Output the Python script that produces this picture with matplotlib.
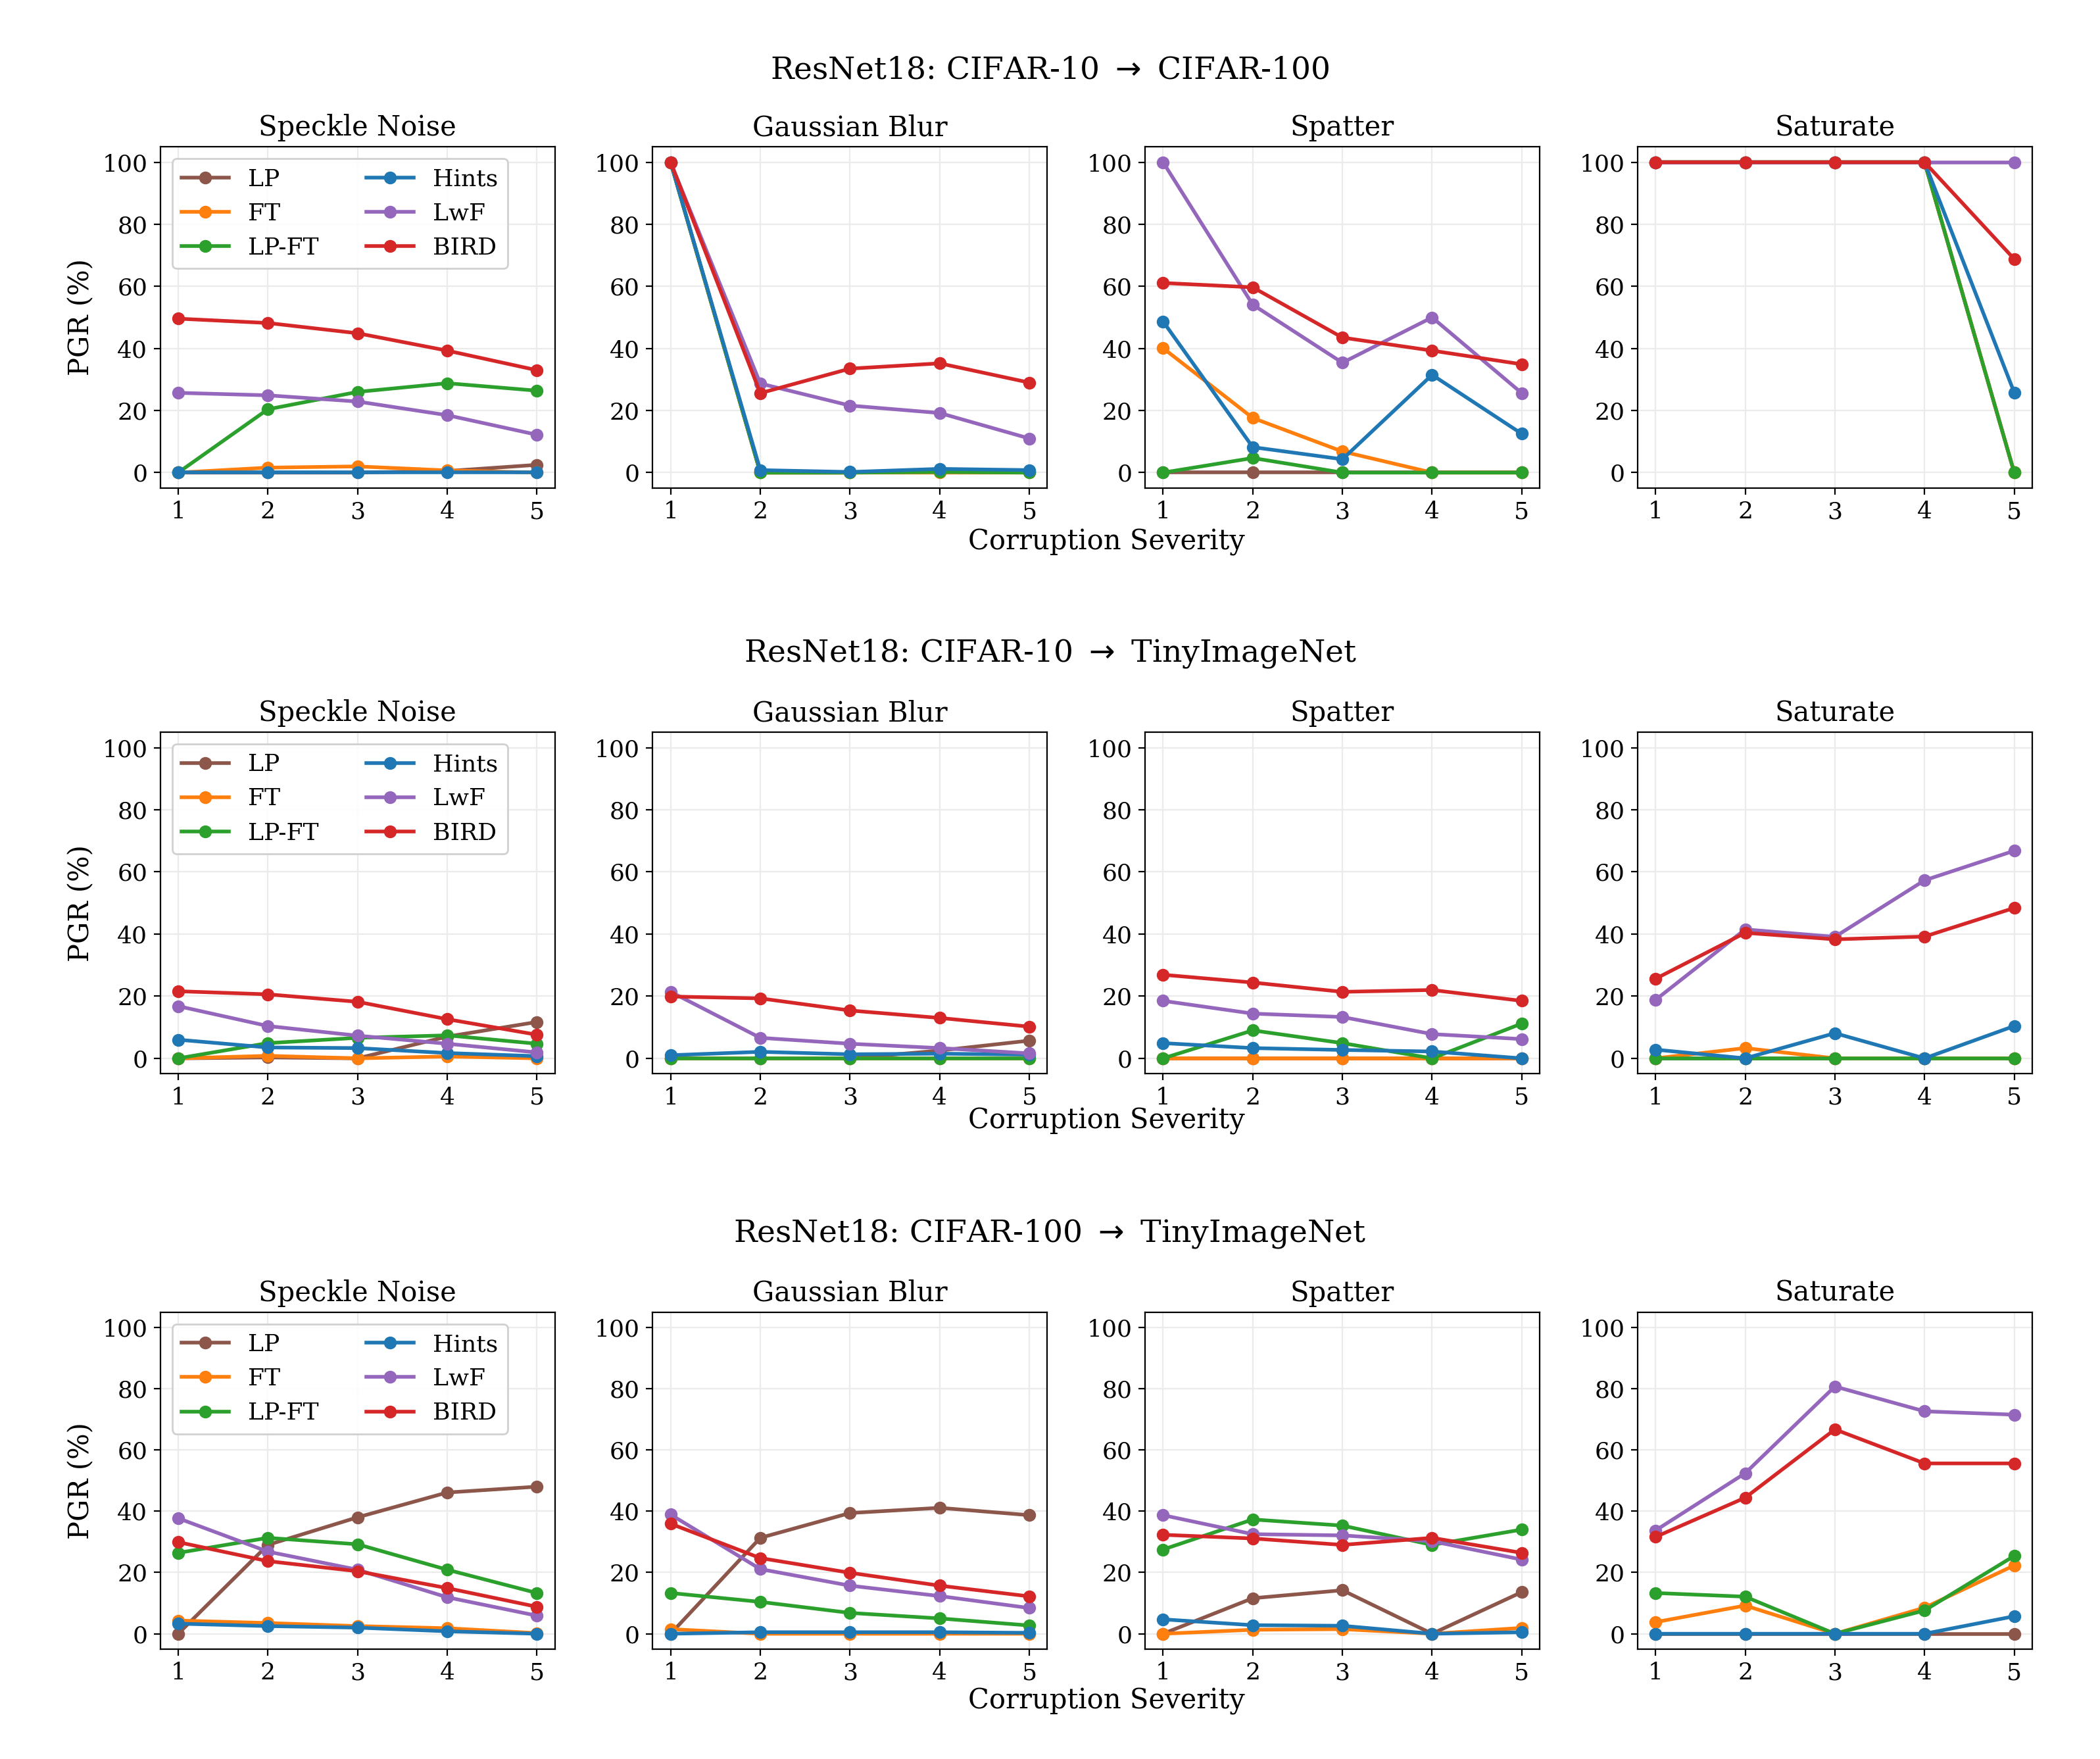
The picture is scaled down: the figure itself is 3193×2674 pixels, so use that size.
import matplotlib
matplotlib.use("Agg")
import matplotlib.pyplot as plt

plt.rcParams['font.family'] = ['DejaVu Serif']

severity = [1, 2, 3, 4, 5]
methods = ['LP', 'FT', 'LP-FT', 'Hints', 'LwF', 'BIRD']
colors = ['tab:brown', 'tab:orange', 'tab:green', 'tab:blue', 'tab:purple', 'tab:red']
corruptions = ['Speckle Noise', 'Gaussian Blur', 'Spatter', 'Saturate']
row_titles = ['ResNet18: CIFAR-10 $\\rightarrow$ CIFAR-100',
              'ResNet18: CIFAR-10 $\\rightarrow$ TinyImageNet',
              'ResNet18: CIFAR-100 $\\rightarrow$ TinyImageNet']

# CIFAR-10 -> CIFAR-100
c10_c100_speckle = {
    'LP':    [0, 0, 0, 0.5, 2.5],
    'FT':    [0, 1.6, 2.0, 0.7, 0],
    'LP-FT': [0, 20.4, 26.0, 28.8, 26.4],
    'Hints': [0, 0, 0, 0, 0],
    'LwF':   [25.7, 24.9, 22.9, 18.5, 12.2],
    'BIRD':  [49.6, 48.2, 44.9, 39.3, 33.0],
}
c10_c100_blur = {
    'LP':    [100, 0, 0, 0.5, 0.2],
    'FT':    [100, 0, 0, 0, 0],
    'LP-FT': [100, 0, 0, 0.2, 0],
    'Hints': [100, 0.8, 0.2, 1.2, 0.8],
    'LwF':   [100, 28.7, 21.6, 19.2, 11.0],
    'BIRD':  [100, 25.6, 33.5, 35.2, 29.0],
}
c10_c100_spatter = {
    'LP':    [0, 0, 0, 0, 0],
    'FT':    [40.1, 17.6, 6.8, 0, 0],
    'LP-FT': [0, 4.7, 0, 0, 0],
    'Hints': [48.7, 8.2, 4.3, 31.5, 12.5],
    'LwF':   [100, 54.1, 35.4, 50.0, 25.6],
    'BIRD':  [61.1, 59.7, 43.5, 39.3, 34.9],
}
c10_c100_saturate = {
    'LP':    [100, 100, 100, 100, 0],
    'FT':    [100, 100, 100, 100, 0],
    'LP-FT': [100, 100, 100, 100, 0],
    'Hints': [100, 100, 100, 100, 25.8],
    'LwF':   [100, 100, 100, 100, 100],
    'BIRD':  [100, 100, 100, 100, 68.8],
}

# CIFAR-10 -> TinyImageNet
c10_tin_speckle = {
    'LP':    [0, 0.3, 0, 7.0, 11.7],
    'FT':    [0, 0.8, 0, 0.6, 0],
    'LP-FT': [0, 4.9, 6.6, 7.4, 4.7],
    'Hints': [6.0, 3.5, 3.3, 1.7, 0.7],
    'LwF':   [16.8, 10.4, 7.3, 4.7, 1.9],
    'BIRD':  [21.6, 20.6, 18.2, 12.6, 7.6],
}
c10_tin_blur = {
    'LP':    [0, 0, 0, 2.5, 5.7],
    'FT':    [0, 0, 0, 0, 0],
    'LP-FT': [0, 0, 0, 0, 0],
    'Hints': [1.0, 2.1, 1.3, 1.5, 1.2],
    'LwF':   [21.4, 6.6, 4.7, 3.3, 1.6],
    'BIRD':  [19.9, 19.3, 15.4, 13.0, 10.2],
}
c10_tin_spatter = {
    'LP':    [0, 0, 0, 0, 0],
    'FT':    [0, 0, 0, 0, 0],
    'LP-FT': [0, 9.0, 4.9, 0, 11.2],
    'Hints': [4.9, 3.3, 2.7, 2.2, 0],
    'LwF':   [18.5, 14.4, 13.3, 7.8, 6.2],
    'BIRD':  [26.9, 24.4, 21.4, 22.0, 18.5],
}
c10_tin_saturate = {
    'LP':    [0, 0, 0, 0, 0],
    'FT':    [0, 3.3, 0, 0, 0],
    'LP-FT': [0, 0, 0, 0, 0],
    'Hints': [2.8, 0, 8.1, 0, 10.4],
    'LwF':   [18.8, 41.5, 39.1, 57.3, 66.8],
    'BIRD':  [25.6, 40.4, 38.3, 39.2, 48.4],
}

# CIFAR-100 -> TinyImageNet
c100_tin_speckle = {
    'LP':    [0, 29.0, 38.0, 46.1, 48.0],
    'FT':    [4.3, 3.5, 2.5, 1.8, 0.2],
    'LP-FT': [26.4, 31.3, 29.2, 20.9, 13.3],
    'Hints': [3.3, 2.5, 2.0, 0.8, 0],
    'LwF':   [37.7, 26.8, 20.9, 11.9, 5.9],
    'BIRD':  [29.9, 23.7, 20.4, 14.9, 8.8],
}
c100_tin_blur = {
    'LP':    [0, 31.3, 39.4, 41.1, 38.7],
    'FT':    [1.5, 0, 0, 0, 0],
    'LP-FT': [13.3, 10.4, 6.8, 5.0, 2.7],
    'Hints': [0, 0.5, 0.5, 0.5, 0.3],
    'LwF':   [38.9, 21.1, 15.7, 12.3, 8.4],
    'BIRD':  [35.9, 24.7, 19.9, 15.7, 12.2],
}
c100_tin_spatter = {
    'LP':    [0, 11.6, 14.2, 0, 13.6],
    'FT':    [0, 1.3, 1.5, 0, 1.9],
    'LP-FT': [27.5, 37.3, 35.3, 29.0, 34.0],
    'Hints': [4.7, 2.8, 2.6, 0, 0.5],
    'LwF':   [38.7, 32.5, 32.1, 30.2, 24.2],
    'BIRD':  [32.3, 31.1, 29.0, 31.3, 26.4],
}
c100_tin_saturate = {
    'LP':    [0, 0, 0, 0, 0],
    'FT':    [3.8, 9.2, 0, 8.5, 22.3],
    'LP-FT': [13.3, 12.1, 0, 7.6, 25.4],
    'Hints': [0, 0, 0, 0, 5.7],
    'LwF':   [33.7, 52.4, 80.7, 72.6, 71.5],
    'BIRD':  [31.6, 44.4, 66.7, 55.6, 55.6],
}

rows = [
    [c10_c100_speckle, c10_c100_blur, c10_c100_spatter, c10_c100_saturate],
    [c10_tin_speckle, c10_tin_blur, c10_tin_spatter, c10_tin_saturate],
    [c100_tin_speckle, c100_tin_blur, c100_tin_spatter, c100_tin_saturate],
]

fig = plt.figure(figsize=(15.965, 13.37), dpi=200)

# figure-fraction layout of each row: (axes top, axes bottom, title y, xlabel y)
row_pos = [(0.9166, 0.7225, 0.960, 0.692),
           (0.5838, 0.3895, 0.6286, 0.3626),
           (0.2541, 0.0625, 0.2988, 0.0329)]

for r, panels in enumerate(rows):
    top, bottom, ty, xy = row_pos[r]
    gs = fig.add_gridspec(1, 4, left=0.0763, right=0.9677, top=top, bottom=bottom, wspace=0.248)
    for c, data in enumerate(panels):
        ax = fig.add_subplot(gs[0, c])
        for m, col in zip(methods, colors):
            ax.plot(severity, data[m], marker='o', color=col, lw=2, ms=6, label=m)
        ax.set_ylim(-5, 105)
        ax.set_yticks([0, 20, 40, 60, 80, 100])
        ax.set_xticks(severity)
        ax.grid(True, color='#ebebeb', lw=0.8)
        ax.set_axisbelow(True)
        ax.tick_params(labelsize=13)
        ax.set_title(corruptions[c], fontsize=15)
        if c == 0:
            ax.set_ylabel('PGR (%)', fontsize=15)
            ax.legend(loc='upper left', ncol=2, fontsize=13, framealpha=0.9,
                      columnspacing=2.0, handlelength=2.0)
    fig.text(0.5, ty, row_titles[r], ha='center', va='center', fontsize=17)
    fig.text(0.527, xy, 'Corruption Severity', ha='center', va='center', fontsize=15)

fig.savefig('out.png', dpi=200)
